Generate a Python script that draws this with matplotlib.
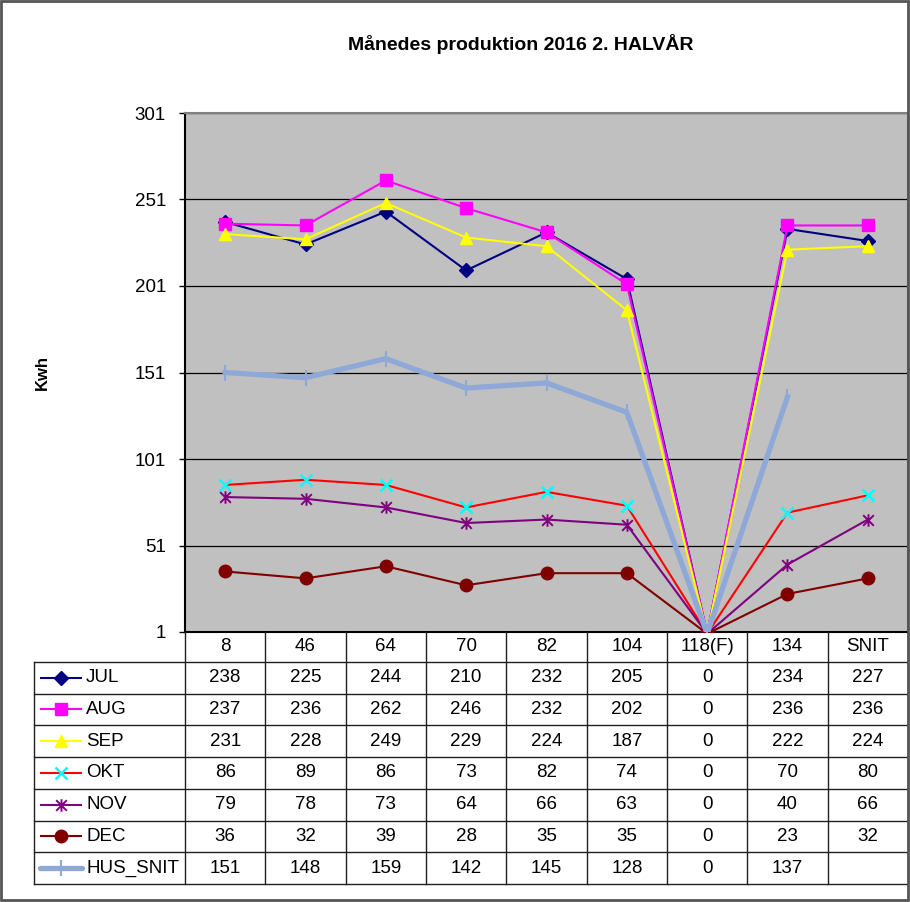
import numpy as np
import matplotlib
matplotlib.use("Agg")
import matplotlib.pyplot as plt
from matplotlib.patches import Rectangle
from matplotlib.path import Path

plt.rcParams['font.family'] = ['Liberation Sans', 'DejaVu Sans']

categories = ["8", "46", "64", "70", "82", "104", "118(F)", "134", "SNIT"]
series_names = ["JUL", "AUG", "SEP", "OKT", "NOV", "DEC", "HUS_SNIT"]
jul = [238, 225, 244, 210, 232, 205, 0, 234, 227]
aug = [237, 236, 262, 246, 232, 202, 0, 236, 236]
sep = [231, 228, 249, 229, 224, 187, 0, 222, 224]
okt = [86, 89, 86, 73, 82, 74, 0, 70, 80]
nov = [79, 78, 73, 64, 66, 63, 0, 40, 66]
dec = [36, 32, 39, 28, 35, 35, 0, 23, 32]
hus_snit = [151, 148, 159, 142, 145, 128, 0, 137, None]
yticks = [1, 51, 101, 151, 201, 251, 301]

values = [jul, aug, sep, okt, nov, dec, hus_snit]

ast = Path([(0, -1), (0, 1), (-0.85, -0.85), (0.85, 0.85), (-0.85, 0.85), (0.85, -0.85)],
           [Path.MOVETO, Path.LINETO, Path.MOVETO, Path.LINETO, Path.MOVETO, Path.LINETO])

styles = [
    dict(color="#000080", marker="D", ms=7, mfc="#000080", mec="#000080", lw=1.5),
    dict(color="#FF00FF", marker="s", ms=9, mfc="#FF00FF", mec="#FF00FF", lw=1.5),
    dict(color="#FFFF00", marker="^", ms=9, mfc="#FFFF00", mec="#FFFF00", lw=1.5),
    dict(color="#FF0000", marker="x", ms=9, mfc="#00FFFF", mec="#00FFFF", mew=1.8, lw=1.5),
    dict(color="#800080", marker=ast, ms=9, mfc="#800080", mec="#800080", mew=1.4, lw=1.5),
    dict(color="#800000", marker="o", ms=9, mfc="#800000", mec="#800000", lw=1.5),
    dict(color="#8EA9D8", marker="|", ms=12, mfc="#8EA9D8", mec="#8EA9D8", mew=1.5, lw=3.8),
]

W, H = 910, 902
fig = plt.figure(figsize=(W / 100, H / 100), dpi=100)
fig.patch.set_facecolor("white")

def fx(px):
    return px / W

def fy(py):
    return 1 - py / H

FS = 13.5
L, R, T, B = 185, 908, 113, 632
ax = fig.add_axes([fx(L), fy(B), fx(R - L), fy(T) - fy(B)])
ax.set_facecolor("#C0C0C0")
x = np.arange(len(categories))
for vals, st in zip(values, styles):
    y = np.array([np.nan if v is None else v for v in vals], dtype=float)
    ax.plot(x, y, zorder=3, **st)
ax.set_xlim(-0.5, len(categories) - 0.5)
ax.set_ylim(1, 301)
ax.set_yticks(yticks)
ax.set_yticklabels([str(t) for t in yticks], fontsize=FS)
ax.yaxis.grid(True, color="black", lw=0.9)
ax.set_axisbelow(True)
ax.set_xticks([])
ax.tick_params(axis="y", direction="out", length=4.3, width=1, pad=9.4)
ax.spines["left"].set_color("black")
ax.spines["bottom"].set_color("black")
ax.spines["top"].set_color("#808080")
ax.spines["right"].set_color("#808080")
for s in ax.spines.values():
    s.set_linewidth(1.5)

# data table
TB = 884
tax = fig.add_axes([fx(L), fy(TB), fx(R - L), fy(B) - fy(TB)])
tax.set_xlim(-0.5, len(categories) - 0.5)
nrows = len(series_names)
hdr = 30 / 32
tax.set_ylim(nrows, -hdr)
tax.axis("off")
colw = (R - L) / len(categories)
xleft = -0.5 - (L - 34) / colw
lc = "#202020"
for k in range(len(categories) + 1):
    tax.plot([k - 0.5, k - 0.5], [-hdr, nrows], color=lc, lw=1.0, clip_on=False)
for r in range(nrows + 1):
    tax.plot([xleft, len(categories) - 0.5], [r, r], color=lc, lw=1.0, clip_on=False)
tax.plot([xleft, xleft], [0, nrows], color=lc, lw=1.0, clip_on=False)
for i, c in enumerate(categories):
    tax.text(i, -hdr / 2, c, ha="center", va="center", fontsize=FS)
for r, (name, vals, st) in enumerate(zip(series_names, values, styles)):
    yc = r + 0.5
    for i, v in enumerate(vals):
        if v is not None:
            tax.text(i, yc, str(v), ha="center", va="center", fontsize=FS)
    x0 = -0.5 - (L - 40) / colw
    x1 = -0.5 - (L - 82) / colw
    tax.plot([x0, x1], [yc, yc], color=st["color"], lw=st["lw"], clip_on=False,
             solid_capstyle="round" if name == "HUS_SNIT" else "butt")
    tax.plot([(x0 + x1) / 2], [yc], marker=st["marker"], ms=st["ms"],
             mfc=st["mfc"], mec=st["mec"], mew=st.get("mew", 1.0), ls="none", clip_on=False)
    tax.text(-0.5 - (L - 86) / colw, yc, name, ha="left", va="center", fontsize=FS)

fig.text(fx(521), fy(44), "Månedes produktion 2016 2. HALVÅR", ha="center", va="center",
         fontsize=14, fontweight="bold")
fig.text(fx(42), fy(372), "Kwh", ha="center", va="center", rotation=90,
         fontsize=12, fontweight="bold")

fig.patches.append(Rectangle((fx(1), fy(900)), fx(907), fy(1) - fy(900), transform=fig.transFigure,
                             fill=False, edgecolor="#555555", lw=2))

fig.savefig("out.png", dpi=100)
